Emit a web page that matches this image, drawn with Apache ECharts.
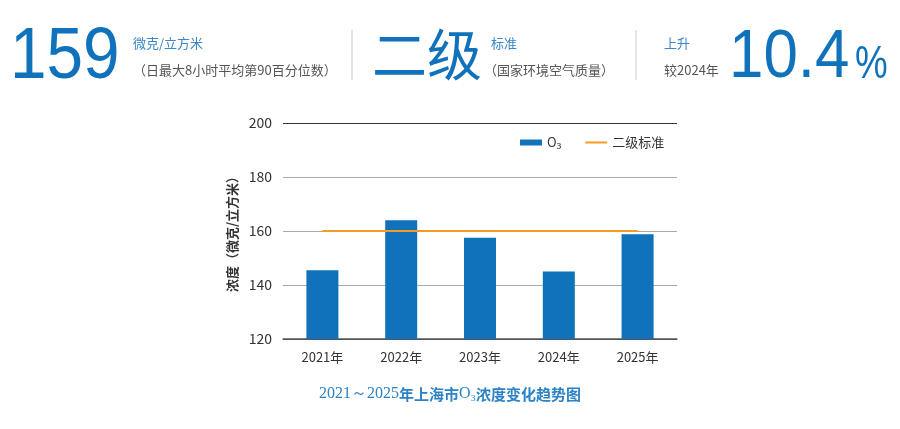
<!DOCTYPE html>
<html>
<head>
    <meta charset="utf-8"/>
    <title>O3</title>
    <script src="https://cdn.jsdelivr.net/npm/echarts@6.0.0/dist/echarts.min.js"></script>
    <style>
        body { margin: 0; background: #fff; }
    </style>
</head>
<body>
<div id="chart" style="width: 900px;height:429px;"></div>
<script type="text/javascript">
    var years = ['2021年', '2022年', '2023年', '2024年', '2025年'];
    var o3Values = [145.5, 164, 157.5, 145, 158.8];
    var standardValues = [160, 160, 160, 160, 160];
    var yTicks = [120, 200, 20]; // min, max, interval

    var blue = '#1072ba';
    var font = '"Noto Sans CJK SC", "Noto Sans", sans-serif';
    var numFont = '"Liberation Sans", Arial, sans-serif';

    function txt(x, y, text, size, color, weight) {
        return {
            type: 'text', left: x, top: y,
            style: { text: text, fontSize: size, fill: color, fontFamily: font, fontWeight: weight || 'normal' }
        };
    }
    // 大号数字，横向压窄一点
    function bigNum(x, y, text, size, sx) {
        return {
            type: 'text', x: x, y: y, scaleX: sx,
            style: { text: text, fontSize: size, fill: blue, fontFamily: numFont, verticalAlign: 'top', align: 'left' }
        };
    }

    var option = {
        textStyle: { fontFamily: font },
        graphic: [
            bigNum(10, 21, '159', 73, 0.9),
            txt(133, 37, '微克/立方米', 13, '#3a86c8'),
            txt(133, 64, '（日最大8小时平均第90百分位数）', 13, '#555'),
            { type: 'line', shape: { x1: 352, y1: 30, x2: 352, y2: 80 }, style: { stroke: '#ccc', lineWidth: 1 } },
            txt(372, 27, '二级', 55, blue),
            txt(491, 37, '标准', 13, '#3a86c8'),
            txt(484, 64, '（国家环境空气质量）', 13, '#555'),
            { type: 'line', shape: { x1: 636, y1: 30, x2: 636, y2: 80 }, style: { stroke: '#ccc', lineWidth: 1 } },
            txt(664, 37, '上升', 13, '#3a86c8'),
            txt(664, 64, '较2024年', 13, '#555'),
            bigNum(729, 24, '10.4', 68, 0.91),
            bigNum(855, 42, '%', 46, 0.8),
            {
                type: 'text', left: 'center', top: 386,
                style: {
                    text: '{n|2021～2025}{c|年上海市}{n|O₃}{c|浓度变化趋势图}',
                    rich: {
                        n: { fontSize: 16, fill: '#2b83c6', fontFamily: '"Liberation Serif", "Times New Roman", serif' },
                        c: { fontSize: 15, fill: '#2b83c6', fontFamily: font, fontWeight: 'bold' }
                    }
                }
            }
        ],
        legend: {
            top: 131,
            left: 515,
            itemGap: 24,
            itemWidth: 22,
            itemHeight: 6,
            textStyle: { fontSize: 13, color: '#333' },
            data: [
                { name: 'O₃', icon: 'rect' },
                { name: '二级标准', icon: 'path://M0,2 L22,2 L22,4 L0,4 Z' }
            ]
        },
        grid: { left: 283, right: 223, top: 123, bottom: 90 },
        xAxis: {
            type: 'category',
            data: years,
            axisLine: { lineStyle: { color: '#555', width: 1.5 } },
            axisTick: { show: false },
            axisLabel: { fontSize: 13, color: '#333', margin: 12 }
        },
        yAxis: {
            type: 'value',
            min: yTicks[0],
            max: yTicks[1],
            interval: yTicks[2],
            name: '浓度（微克/立方米）',
            nameLocation: 'middle',
            nameRotate: 90,
            nameGap: 44,
            nameTextStyle: { fontSize: 13, fontWeight: 'bold', color: '#333' },
            axisLine: { show: false },
            axisTick: { show: false },
            axisLabel: { fontSize: 14, color: '#333', margin: 11 },
            splitLine: {
                lineStyle: {
                    color: ['#555', '#aaa', '#aaa', '#aaa', '#333'],
                    width: 1
                }
            }
        },
        series: [
            {
                name: 'O₃',
                type: 'bar',
                data: o3Values,
                barWidth: 32,
                itemStyle: { color: blue },
                z: 2
            },
            {
                name: '二级标准',
                type: 'line',
                data: standardValues,
                symbol: 'none',
                lineStyle: { color: '#f59a23', width: 2 },
                itemStyle: { color: '#f59a23' },
                z: 3
            }
        ]
    };
    var chart = echarts.init(document.getElementById('chart'));
    chart.setOption(option);
</script>
</body>
</html>
